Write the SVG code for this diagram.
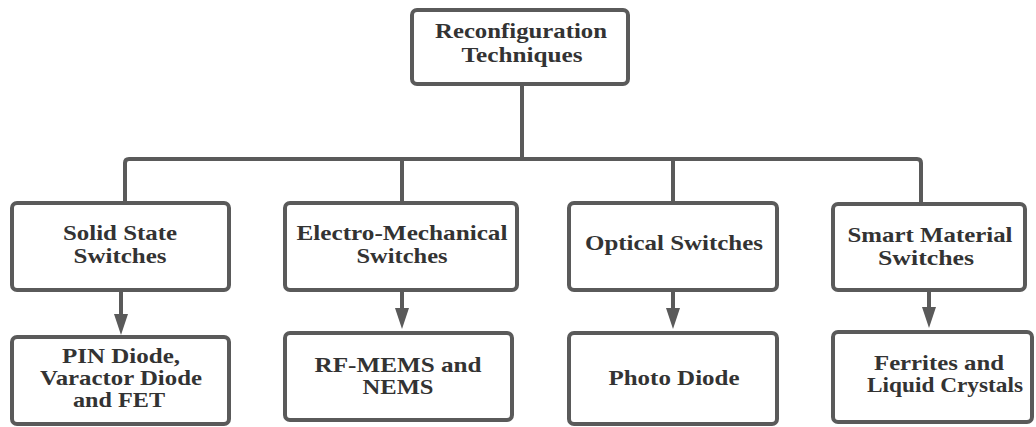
<svg xmlns="http://www.w3.org/2000/svg" width="1036" height="427" viewBox="0 0 1036 427">
<defs>
<style>
.box{fill:#fff;stroke:#5a5a5a;stroke-width:4}
.ln{fill:none;stroke:#5a5a5a;stroke-width:4;stroke-linejoin:round}
.ah{fill:#5a5a5a}
.t{font-family:"Liberation Serif","Times New Roman",serif;font-weight:bold;font-size:21px;fill:#333;text-anchor:middle}
</style>
</defs>
<rect width="1036" height="427" fill="#fff"/>
<g id="connectors">
<path class="ln" d="M522,84 V159"/>
<path class="ln" d="M125,203 V163 Q125,159 129,159 H917 Q921,159 921,163 V204"/>
<path class="ln" d="M402,159 V203"/>
<path class="ln" d="M673,159 V203"/>
<path class="ln" d="M121,290 V316"/>
<polygon class="ah" points="114,314 128,314 121,335"/>
<path class="ln" d="M402,290 V310"/>
<polygon class="ah" points="395,308 409,308 402,329"/>
<path class="ln" d="M673,290 V310"/>
<polygon class="ah" points="666,308 680,308 673,329"/>
<path class="ln" d="M929,290 V309"/>
<polygon class="ah" points="922,307 936,307 929,328"/>
</g>
<g id="root">
<rect class="box" x="412" y="10" width="216" height="74" rx="5"/>
<text class="t" x="521" y="38" textLength="172" lengthAdjust="spacingAndGlyphs">Reconfiguration</text>
<text class="t" x="522" y="62" textLength="121" lengthAdjust="spacingAndGlyphs">Techniques</text>
</g>
<g id="solid-state">
<rect class="box" x="12" y="203" width="217" height="87" rx="5"/>
<text class="t" x="120" y="240" textLength="114" lengthAdjust="spacingAndGlyphs">Solid State</text>
<text class="t" x="120" y="263" textLength="93" lengthAdjust="spacingAndGlyphs">Switches</text>
</g>
<g id="pin-diode">
<rect class="box" x="12" y="337" width="217" height="87" rx="5"/>
<text class="t" x="121" y="363" textLength="118" lengthAdjust="spacingAndGlyphs">PIN Diode,</text>
<text class="t" x="121" y="385" textLength="162" lengthAdjust="spacingAndGlyphs">Varactor Diode</text>
<text class="t" x="119" y="407" textLength="92" lengthAdjust="spacingAndGlyphs">and FET</text>
</g>
<g id="electro-mechanical">
<rect class="box" x="285" y="203" width="232" height="87" rx="5"/>
<text class="t" x="402" y="240" textLength="211" lengthAdjust="spacingAndGlyphs">Electro-Mechanical</text>
<text class="t" x="402" y="263" textLength="91" lengthAdjust="spacingAndGlyphs">Switches</text>
</g>
<g id="rf-mems">
<rect class="box" x="285" y="333" width="227" height="87" rx="5"/>
<text class="t" x="398" y="372" textLength="167" lengthAdjust="spacingAndGlyphs">RF-MEMS and</text>
<text class="t" x="398" y="394" textLength="71" lengthAdjust="spacingAndGlyphs">NEMS</text>
</g>
<g id="optical">
<rect class="box" x="569" y="203" width="208" height="87" rx="5"/>
<text class="t" x="674" y="250" textLength="178" lengthAdjust="spacingAndGlyphs">Optical Switches</text>
</g>
<g id="photo-diode">
<rect class="box" x="569" y="333" width="208" height="91" rx="5"/>
<text class="t" x="674" y="385" textLength="131" lengthAdjust="spacingAndGlyphs">Photo Diode</text>
</g>
<g id="smart-material">
<rect class="box" x="833" y="204" width="192" height="86" rx="5"/>
<text class="t" x="930" y="242" textLength="165" lengthAdjust="spacingAndGlyphs">Smart Material</text>
<text class="t" x="926" y="265" textLength="96" lengthAdjust="spacingAndGlyphs">Switches</text>
</g>
<g id="ferrites">
<rect class="box" x="833" y="332" width="199" height="90" rx="5"/>
<text class="t" x="939" y="370" textLength="130" lengthAdjust="spacingAndGlyphs">Ferrites and</text>
<text class="t" x="945" y="392" textLength="156" lengthAdjust="spacingAndGlyphs">Liquid Crystals</text>
</g>
</svg>
